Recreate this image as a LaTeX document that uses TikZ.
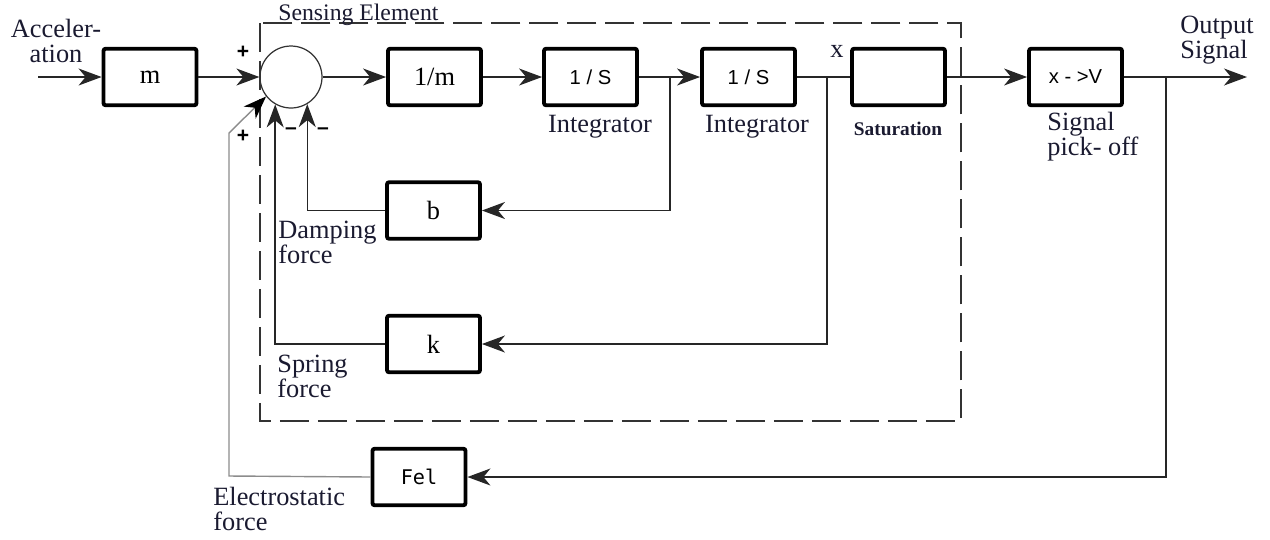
\documentclass[tikz,border=0pt]{standalone}
\usepackage{fontspec}
\setmainfont{Liberation Serif}
\newfontfamily\arialf{Liberation Sans}
\newfontfamily\monof{DejaVu Sans Mono}
\usetikzlibrary{arrows.meta,calc}
\definecolor{ink}{HTML}{1A1A30}
\begin{document}
\begin{tikzpicture}[x=0.02cm,y=-0.02cm,
 blk/.style={draw=black, line width=2.2pt, rounded corners=1.2pt, minimum width=1.86cm, minimum height=1.13cm, inner sep=0pt},
 wire/.style={line width=0.8pt, draw=black!85},
 arr/.style={wire, -{Stealth[length=0.46cm,width=0.34cm,inset=0.14cm]}},
 lbl/.style={font=\fontsize{15}{14.2}\selectfont, text=ink, align=left, inner sep=0pt, anchor=base west},
 boxtxt/.style={font=\fontsize{15}{15}\selectfont},
 sanstxt/.style={font=\arialf\fontsize{11.5}{11.5}\selectfont},
 sign/.style={font=\arialf\bfseries\fontsize{12}{12}\selectfont, inner sep=0pt},
]
\useasboundingbox (0,0) rectangle (1270,539);

% sensing element frame
\draw[line width=0.9pt, black!80, dash pattern=on 0.58cm off 0.18cm] (260,23) rectangle (961,421);
\node[lbl, font=\fontsize{13.5}{14}\selectfont, anchor=base west] (se) at (278,20) {Sensing Element};

% blocks
\node[blk, boxtxt] (m) at (150,77) {m};
\node[draw=black!80, line width=0.7pt, circle, minimum size=1.24cm, inner sep=0pt] (c) at (291,77) {};
\node[blk, boxtxt] (im) at (434.5,77) {1/m};
\node[blk, sanstxt] (i1) at (590.5,77) {1 / S};
\node[blk, sanstxt] (i2) at (748.5,77) {1 / S};
\node[blk] (sat) at (898.5,77) {};
\node[blk, sanstxt] (xv) at (1075.5,77) {x - >V};
\node[blk, boxtxt] (b) at (433.5,210.5) {b};
\node[blk, boxtxt] (k) at (433.5,344) {k};
\node[blk, font=\monof\fontsize{11.5}{11.5}\selectfont] (fel) at (419,477) {Fel};

% coordinates
\coordinate (in) at (38,77);
\coordinate (j1) at (670,77);
\coordinate (j2) at (827,77);
\coordinate (j3) at (1166,77);
\coordinate (out) at (1247,77);
\coordinate (e1) at (229,476);
\coordinate (e2) at (229,133);

% connectors
\draw[arr] (in) -- (m.west);
\draw[arr] (m.east) -- (c.west);
\draw[arr] (c.east) -- (im.west);
\draw[arr] (im.east) -- (i1.west);
\draw[arr] (i1.east) -- (i2.west);
\draw[wire] (i2.east) -- (sat.west);
\draw[arr] (sat.east) -- (xv.west);
\draw[arr] (xv.east) -- (out);
\draw[arr] (j1) |- (b.east);
\draw[arr] (j2) |- (k.east);
\draw[arr] (j3) |- (fel.east);
\draw[arr] (b.west) -| (c.-59);
\draw[arr] (k.west) -| (c.-120);
\draw[line width=0.8pt, draw=black!45, -{Stealth[length=0.46cm,width=0.34cm,inset=0.14cm,color=black]}] (fel.west) -- (e1) -- (e2) -- (c.218);

% signs
\node[sign] (p1) at (243,52) {+};
\node[sign] (p2) at (243,136) {+};
\node[sign] (n1) at (291,131) {–};
\node[sign] (n2) at (323,131) {–};

% labels
\node[lbl, align=center, anchor=base] (acc) at (56,62) {Acceler-\\ation};
\node[lbl, anchor=base] (int1) at (600,132) {Integrator};
\node[lbl, anchor=base] (int2) at (757,132) {Integrator};
\node[lbl, anchor=base] (xl) at (837,57) {x};
\node[font=\bfseries\fontsize{11}{11}\selectfont, text=ink, inner sep=0pt, anchor=base] (satl) at (898,135) {Saturation};
\node[lbl] (spo) at (1047,155) {Signal\\pick- off};
\node[lbl] (outl) at (1180,58) {Output\\Signal};
\node[lbl] (damp) at (278,263) {Damping\\force};
\node[lbl] (spr) at (277,397) {Spring\\force};
\node[lbl] (el) at (213,530) {Electrostatic\\force};
\end{tikzpicture}
\end{document}
